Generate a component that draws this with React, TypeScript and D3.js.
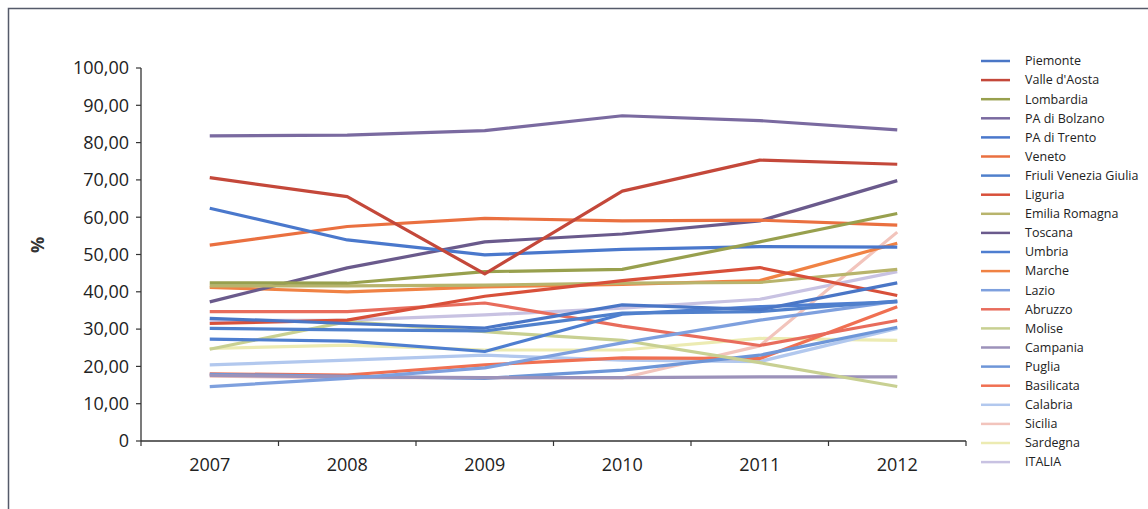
import React from "react";
import * as d3 from "d3";

const years = ["2007", "2008", "2009", "2010", "2011", "2012"];
const yTicks = [0, 10, 20, 30, 40, 50, 60, 70, 80, 90, 100];

const regions = [
  "Piemonte", "Valle d'Aosta", "Lombardia", "PA di Bolzano", "PA di Trento", "Veneto",
  "Friuli Venezia Giulia", "Liguria", "Emilia Romagna", "Toscana", "Umbria", "Marche",
  "Lazio", "Abruzzo", "Molise", "Campania", "Puglia", "Basilicata", "Calabria", "Sicilia",
  "Sardegna", "ITALIA",
];

const piemonte = [32.9, 31.5, 30.3, 36.5, 35.2, 42.4];
const valleAosta = [70.6, 65.5, 44.8, 67.0, 75.3, 74.2];
const lombardia = [42.4, 42.3, 45.4, 46.0, 53.4, 61.0];
const bolzano = [81.8, 82.0, 83.2, 87.2, 85.9, 83.4];
const trento = [62.4, 53.9, 49.9, 51.4, 52.1, 52.0];
const veneto = [52.5, 57.5, 59.7, 59.0, 59.2, 57.9];
const friuli = [30.2, 29.8, 29.5, 34.3, 34.7, 37.5];
const liguria = [31.5, 32.4, 38.8, 43.0, 46.5, 39.0];
const emilia = [41.6, 41.6, 41.8, 42.3, 42.5, 46.0];
const toscana = [37.3, 46.4, 53.4, 55.5, 59.0, 69.8];
const umbria = [27.3, 26.8, 24.0, 34.0, 36.0, 37.3];
const marche = [41.2, 40.0, 41.3, 42.0, 43.0, 53.0];
const lazio = [14.6, 16.8, 19.6, 26.3, 32.4, 37.5];
const abruzzo = [34.7, 34.7, 37.0, 30.8, 25.6, 32.3];
const molise = [24.6, 32.0, 29.3, 27.0, 21.0, 14.6];
const campania = [17.6, 17.2, 17.0, 17.0, 17.2, 17.2];
const puglia = [17.9, 17.3, 16.8, 19.0, 23.0, 30.5];
const basilicata = [18.0, 17.7, 20.4, 22.3, 22.1, 36.0];
const calabria = [20.4, 21.7, 23.0, 21.7, 21.3, 30.2];
const sicilia = [17.4, 17.0, 17.0, 16.9, 25.5, 56.0];
const sardegna = [24.8, 25.7, 24.4, 24.4, 27.5, 27.0];
const italia = [32.3, 32.4, 33.8, 35.6, 38.0, 45.4];

const seriesValues = [
  piemonte, valleAosta, lombardia, bolzano, trento, veneto, friuli, liguria, emilia, toscana,
  umbria, marche, lazio, abruzzo, molise, campania, puglia, basilicata, calabria, sicilia,
  sardegna, italia,
];

const colors = [
  "#4a76c6", "#c4483a", "#98a04e", "#7a6aa0", "#4a78cc", "#ea7040",
  "#5080cc", "#d8503a", "#b8b46c", "#6a5a8c", "#4e7ed0", "#f08244",
  "#7ea0de", "#e86c5c", "#c8d092", "#9c92ba", "#6e96d8", "#f07052",
  "#b2c8ee", "#f2c4bc", "#ecebb2", "#c8c2e2",
];

const W = 1148;
const H = 509;
const left = 141;
const right = 966;
const top = 68;
const bottom = 441;

export default function App() {
  const x = d3.scaleBand().domain(years).range([left, right]).padding(0);
  const y = d3.scaleLinear().domain([0, 100]).range([bottom, top]);
  const line = d3
    .line<number>()
    .x((_, i) => (x(years[i]) as number) + x.bandwidth() / 2)
    .y((d) => y(d));
  const fmt = (v: number) => (v === 0 ? "0" : v.toFixed(2).replace(".", ","));
  const font = "'Open Sans', 'DejaVu Sans', sans-serif";
  const legendY0 = 61;
  const legendStep = 19.1;

  return (
    <svg width={W} height={H} style={{ position: "absolute", left: 0, top: 0, background: "#fff" }}>
      <rect x={8.5} y={8.5} width={1300} height={700} fill="none" stroke="#555a6a" strokeWidth={1.5} />
      {/* y axis */}
      <line x1={left} x2={left} y1={top} y2={bottom} stroke="#333" strokeWidth={1.3} />
      {yTicks.map((t) => (
        <g key={t}>
          <line x1={left - 5} x2={left} y1={y(t)} y2={y(t)} stroke="#333" strokeWidth={1.2} />
          <text x={left - 12} y={y(t)} dy="0.35em" textAnchor="end" fontFamily={font} fontSize={18} fill="#222">
            {fmt(t)}
          </text>
        </g>
      ))}
      <text
        transform={`translate(38,245) rotate(-90)`}
        textAnchor="middle"
        dy="0.35em"
        fontFamily={font}
        fontSize={18}
        fontWeight="bold"
        fill="#333"
      >
        %
      </text>
      {/* x axis */}
      <line x1={left} x2={right} y1={bottom} y2={bottom} stroke="#333" strokeWidth={1.3} />
      {[...years.map((yr) => x(yr) as number), right].map((p, i) => (
        <line key={i} x1={p} x2={p} y1={bottom} y2={bottom + 5} stroke="#333" strokeWidth={1.2} />
      ))}
      {years.map((yr) => (
        <text
          key={yr}
          x={(x(yr) as number) + x.bandwidth() / 2}
          y={471}
          textAnchor="middle"
          fontFamily={font}
          fontSize={18}
          fill="#222"
        >
          {yr}
        </text>
      ))}
      {/* lines, drawn from last to first so that first series sit on top */}
      {seriesValues
        .map((vals, i) => ({ vals, i }))
        .reverse()
        .map(({ vals, i }) => (
          <path key={regions[i]} d={line(vals) || ""} fill="none" stroke={colors[i]} strokeWidth={3.2} strokeLinejoin="round" />
        ))}
      {/* legend */}
      {regions.map((r, i) => (
        <g key={r} transform={`translate(0,${legendY0 + i * legendStep})`}>
          <line x1={981} x2={1010} y1={0} y2={0} stroke={colors[i]} strokeWidth={2.5} />
          <text x={1025} y={0} dy="0.35em" fontFamily={font} fontSize={12.5} fill="#222">
            {r}
          </text>
        </g>
      ))}
    </svg>
  );
}
